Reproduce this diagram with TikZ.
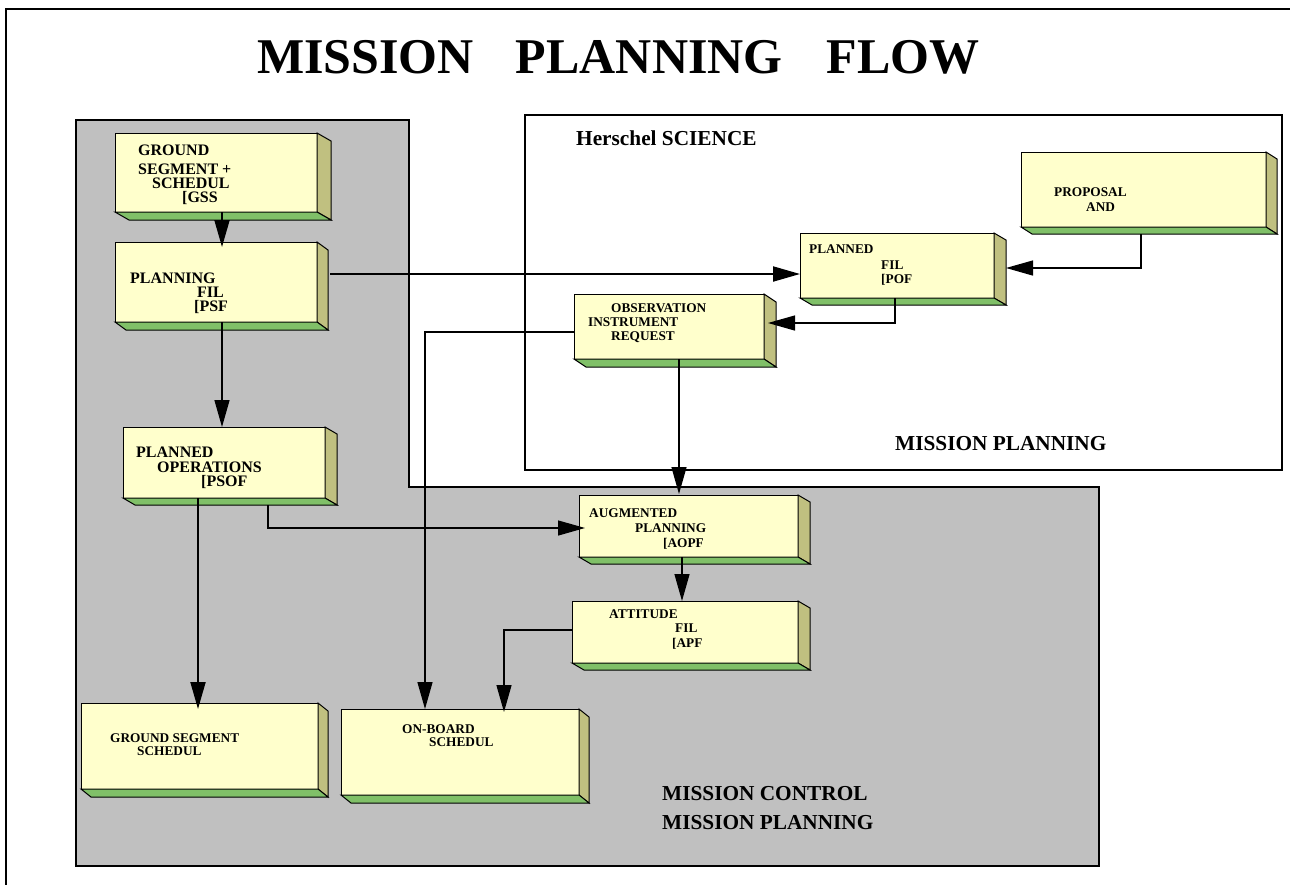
\documentclass[tikz,border=0pt]{standalone}
\usepackage{fontspec}
\setmainfont{Liberation Serif}
\usetikzlibrary{arrows.meta,calc}

\definecolor{faceY}{HTML}{FFFFCC}
\definecolor{sideO}{HTML}{C0C080}
\definecolor{baseG}{HTML}{80C068}
\definecolor{panelG}{HTML}{C0C0C0}

\tikzset{
  front/.style={rectangle, draw=black, line width=1pt, fill=faceY, inner sep=0pt, outer sep=0pt},
  sideface/.style={draw=black, line width=1pt, fill=sideO, line join=miter},
  baseface/.style={draw=black, line width=1pt, fill=baseG, line join=miter},
  conn/.style={line width=1.3pt, -{Triangle[length=27pt,width=15pt]}},
  heavy/.style={conn, line width=2pt},
  bigtxt/.style={font=\fontsize{16}{16}\selectfont\bfseries, inner sep=0pt, anchor=base west},
  smalltxt/.style={font=\fontsize{13.3}{13.3}\selectfont\bfseries, inner sep=0pt, anchor=base west},
  labeltxt/.style={font=\fontsize{21.3}{21.3}\selectfont\bfseries, inner sep=0pt, anchor=base west},
}

% 3-D slab: name, x1, y1, x2, y2 of the front face, depth dx, dy
\newcommand\slab[7]{%
  \node[front, minimum width={#4-#2}, minimum height={#5-#3}] (#1) at ({(#2+#4)/2},{(#3+#5)/2}) {};
  \draw[sideface] (#1.north east) -- ++(#6,#7) -- ($(#1.south east)+(#6,#7)$) -- (#1.south east) -- cycle;
  \draw[baseface] (#1.south west) -- (#1.south east) -- ++(#6,#7) -- ($(#1.south west)+(#6,#7)$) -- cycle;
}

\begin{document}
\begin{tikzpicture}[x=1pt,y=-1pt]
\useasboundingbox (0,0) rectangle (1290,884);
\fill[white] (0,0) rectangle (1290,884);

% page frame
\draw[line width=2pt] (6,890) -- (6,9) -- (1296,9);

% title
\node[anchor=base west, inner sep=0pt, font=\fontsize{50}{50}\selectfont\bfseries] (title) at (257,73)
  {MISSION\hspace*{42pt}PLANNING\hspace*{44pt}FLOW};

% mission control area
\draw[line width=2.5pt, fill=panelG, line join=miter]
  (76,120) -- (409,120) -- (409,487) -- (1099,487) -- (1099,866) -- (76,866) -- cycle;

% science centre area
\draw[line width=2pt, fill=white] (525,115) rectangle (1282,470);

% slabs
\slab{gss}{115}{133}{317}{212}{14}{8}
\slab{psf}{115}{242}{317}{322}{11}{8}
\slab{psof}{123}{427}{325}{498}{12}{7}
\slab{gsched}{81}{703}{318}{789}{10}{8}
\slab{obs}{341}{709}{579}{795}{10}{8}
\slab{aopf}{579}{495}{798}{557}{12}{7}
\slab{apf}{572}{601}{798}{663}{12}{7}
\slab{prop}{1021}{152}{1266}{227}{11}{7}
\slab{pof}{800}{233}{994}{298}{12}{7}
\slab{oir}{574}{294}{764}{359}{12}{8}

% slab texts
\node[bigtxt] (gss-a) at (138,155) {GROUND};
\node[bigtxt] (gss-b) at (138,174) {SEGMENT +};
\node[bigtxt] (gss-c) at (152,188) {SCHEDUL};
\node[bigtxt] (gss-d) at (182,202) {[GSS};

\node[bigtxt] (psf-a) at (130,283) {PLANNING};
\node[bigtxt] (psf-b) at (197,297) {FIL};
\node[bigtxt] (psf-c) at (194,311) {[PSF};

\node[bigtxt] (psof-a) at (136,457) {PLANNED};
\node[bigtxt] (psof-b) at (157,472) {OPERATIONS};
\node[bigtxt] (psof-c) at (201,486) {[PSOF};

\node[smalltxt] (gsched-a) at (110,742) {GROUND SEGMENT};
\node[smalltxt] (gsched-b) at (137,755) {SCHEDUL};

\node[smalltxt] (obs-a) at (402,733) {ON-BOARD};
\node[smalltxt] (obs-b) at (429,746) {SCHEDUL};

\node[smalltxt] (aopf-a) at (589,517) {AUGMENTED};
\node[smalltxt] (aopf-b) at (635,532) {PLANNING};
\node[smalltxt] (aopf-c) at (663,547) {[AOPF};

\node[smalltxt] (apf-a) at (609,618) {ATTITUDE};
\node[smalltxt] (apf-b) at (675,632) {FIL};
\node[smalltxt] (apf-c) at (672,647) {[APF};

\node[smalltxt] (prop-a) at (1054,196) {PROPOSAL};
\node[smalltxt] (prop-b) at (1086,211) {AND};

\node[smalltxt] (pof-a) at (809,253) {PLANNED};
\node[smalltxt] (pof-b) at (881,269) {FIL};
\node[smalltxt] (pof-c) at (881,283) {[POF};

\node[smalltxt] (oir-a) at (611,312) {OBSERVATION};
\node[smalltxt] (oir-b) at (588,326) {INSTRUMENT};
\node[smalltxt] (oir-c) at (611,340) {REQUEST};

% area labels
\node[labeltxt] (sci) at (576,145) {Herschel SCIENCE};
\node[labeltxt] (scimp) at (895,450) {MISSION PLANNING};
\node[labeltxt] (mc) at (662,800) {MISSION CONTROL};
\node[labeltxt] (mcmp) at (662,829) {MISSION PLANNING};

% flows
\draw[heavy, shorten >=-5pt] ([xshift=6pt]gss.south) -- ([xshift=6pt]psf.north);
\draw[conn] ([xshift=6pt]psf.south) -- ([xshift=-2pt]psof.north);
\draw[heavy, shorten >=-6pt] ([xshift=-26pt]psof.south) -- ([xshift=-1.5pt]gsched.north);
\draw[conn, shorten >=-6pt] ([xshift=44pt,yshift=-7pt]psof.south) |- ([yshift=-2pt]aopf.west);
\draw[heavy] ([xshift=13pt,yshift=8pt]psf.east) -- ([yshift=-8.5pt]pof.west);
\draw[conn] ([xshift=-2.5pt,yshift=-7pt]prop.south) |- ([xshift=12pt,yshift=-2.5pt]pof.east);
\draw[conn] ([xshift=-2pt]pof.south) |- ([xshift=4pt,yshift=3.5pt]oir.east);
\draw[conn] ([xshift=10pt]oir.south) -- ([xshift=-9.5pt,yshift=1pt]aopf.north);
\draw[conn] ([yshift=-5.5pt]oir.west) -| ([xshift=-35pt]obs.north);
\draw[conn] ([xshift=-6.5pt]aopf.south) -- ([xshift=-3pt]apf.north);
\draw[conn, shorten >=-3pt] ([yshift=2pt]apf.west) -| ([xshift=44pt]obs.north);
\end{tikzpicture}
\end{document}
